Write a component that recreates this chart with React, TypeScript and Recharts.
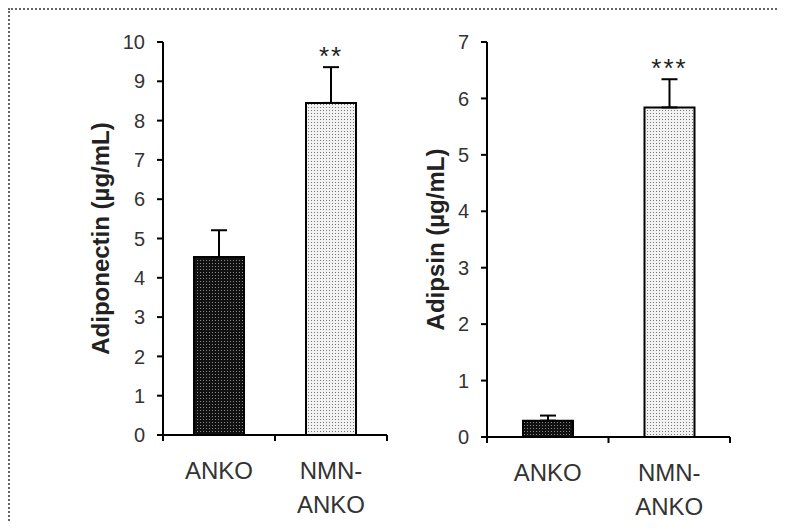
import { BarChart, Bar, XAxis, YAxis, ErrorBar, Cell, LabelList } from 'recharts';

const groups = ['ANKO', 'NMN-ANKO'];
const adiponectin = [4.53, 8.45];
const adiponectinErr = [0.68, 0.91];
const adiponectinSig = ['', '**'];
const adipsin = [0.29, 5.84];
const adipsinErr = [0.09, 0.5];
const adipsinSig = ['', '***'];
const adiponectinTicks = [0, 1, 2, 3, 4, 5, 6, 7, 8, 9, 10];
const adipsinTicks = [0, 1, 2, 3, 4, 5, 6, 7];

const FONT = '"Liberation Sans", Arial, sans-serif';

const toRows = (vals: number[], errs: number[], sig: string[]) =>
  groups.map((g, i) => ({ group: g, value: vals[i], err: [0, errs[i]], sig: sig[i] }));

const adiponectinRows = toRows(adiponectin, adiponectinErr, adiponectinSig);
const adipsinRows = toRows(adipsin, adipsinErr, adipsinSig);

const GroupTick = (props: any) => {
  const { x, y, payload, index } = props;
  const half = payload.offset || 56;
  const lines = payload.value === 'NMN-ANKO' ? ['NMN-', 'ANKO'] : [payload.value];
  return (
    <g>
      {index === 0 && <line x1={x - half} y1={y} x2={x - half} y2={y + 6} stroke="#000" strokeWidth={2} />}
      <line x1={x + half} y1={y} x2={x + half} y2={y + 6} stroke="#000" strokeWidth={2} />
      {lines.map((l, i) => (
        <text key={i} x={x} y={y + 44 + i * 34} textAnchor="middle" fontSize={24} fontFamily={FONT} fill="#333">
          {l}
        </text>
      ))}
    </g>
  );
};

const yLabel = (text: string, x: number) => (props: any) => {
  const vb = props.viewBox || {};
  const cy = (vb.y ?? 0) + (vb.height ?? 0) / 2;
  return (
    <text
      x={x}
      y={cy}
      transform={`rotate(-90 ${x} ${cy})`}
      textAnchor="middle"
      dominantBaseline="central"
      fontSize={24}
      fontWeight="bold"
      fontFamily={FONT}
      fill="#222"
    >
      {text}
    </text>
  );
};

const Patterns = ({ id }: { id: string }) => (
  <defs>
    <pattern id={`${id}-dark`} width="3" height="3" patternUnits="userSpaceOnUse">
      <rect width="3" height="3" fill="#111" />
      <rect x="1" y="1" width="1" height="1" fill="#888" />
    </pattern>
    <pattern id={`${id}-light`} width="3" height="3" patternUnits="userSpaceOnUse">
      <rect width="3" height="3" fill="#f2f2f2" />
      <rect x="1" y="1" width="1" height="1" fill="#777" />
    </pattern>
  </defs>
);

const tickStyle = { fontSize: 20, fontFamily: FONT, fill: '#333' };

const Panel = (p: {
  id: string;
  rows: any[];
  ticks: number[];
  max: number;
  label: string;
  labelX: number;
  width: number;
  margin: any;
  yWidth: number;
  starOffset: number;
}) => (
  <BarChart width={p.width} height={510} data={p.rows} margin={p.margin} barSize={50}>
    <Patterns id={p.id} />
    <XAxis
      dataKey="group"
      axisLine={{ stroke: '#000', strokeWidth: 2 }}
      tickLine={false}
      tickSize={0}
      tickMargin={0}
      height={70}
      interval={0}
      tick={<GroupTick />}
    />
    <YAxis
      type="number"
      domain={[0, p.max]}
      ticks={p.ticks}
      interval={0}
      width={p.yWidth}
      axisLine={{ stroke: '#000', strokeWidth: 2 }}
      tickLine={{ stroke: '#000', strokeWidth: 2 }}
      tickSize={6}
      tickMargin={12}
      tick={tickStyle}
      label={{ content: yLabel(p.label, p.labelX) }}
    />
    <Bar dataKey="value" stroke="#000" strokeWidth={2} isAnimationActive={false}>
      {p.rows.map((r, i) => (
        <Cell key={r.group} fill={`url(#${p.id}-${i === 0 ? 'dark' : 'light'})`} />
      ))}
      <ErrorBar dataKey="err" direction="y" width={8} stroke="#000" strokeWidth={2} />
      <LabelList
        dataKey="sig"
        position="top"
        offset={p.starOffset}
        style={{ fontSize: 26, fontFamily: FONT, fill: '#222', letterSpacing: 2 }}
      />
    </Bar>
  </BarChart>
);

export default function App() {
  return (
    <div
      style={{
        position: 'relative',
        width: 777,
        height: 513,
        boxSizing: 'border-box',
        borderTop: '2px dotted #666',
        borderLeft: '2px dotted #666',
        overflow: 'hidden',
        background: '#fff',
      }}
    >
      <div style={{ position: 'absolute', left: 0, top: 0 }}>
        <Panel
          id="adpn"
          rows={adiponectinRows}
          ticks={adiponectinTicks}
          max={10}
          label="Adiponectin (µg/mL)"
          labelX={90}
          width={390}
          margin={{ top: 32, right: 13, left: 83, bottom: 15 }}
          yWidth={70}
          starOffset={38}
        />
      </div>
      <div style={{ position: 'absolute', left: 390, top: 0 }}>
        <Panel
          id="adps"
          rows={adipsinRows}
          ticks={adipsinTicks}
          max={7}
          label="Adipsin (µg/mL)"
          labelX={35}
          width={380}
          margin={{ top: 32, right: 50, left: 37, bottom: 13 }}
          yWidth={50}
          starOffset={30}
        />
      </div>
    </div>
  );
}
